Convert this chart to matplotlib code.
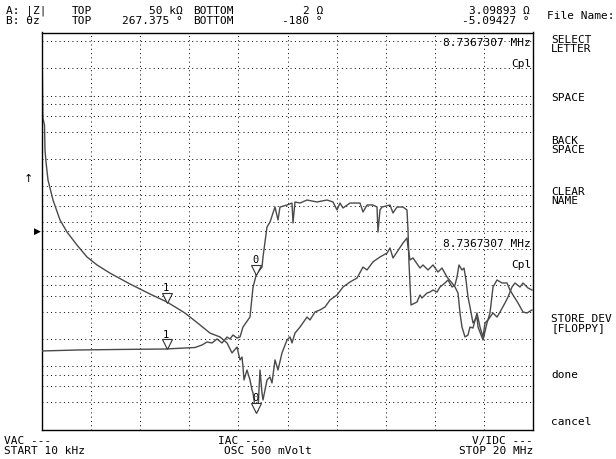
import numpy as np
import matplotlib
matplotlib.use("Agg")
from matplotlib import pyplot as plt
from matplotlib import transforms
from matplotlib.ticker import NullLocator

# sweep and scale settings
start_mhz, stop_mhz = 0.01, 20.0
z_bottom, z_top = 2.0, 50e3
ph_bottom, ph_top = -180.0, 267.375

marker_1_mhz = 5.1
marker_0_mhz = 8.7367307
marker_0_z = 3.09893
marker_0_ph = -5.09427

# trace A: |Z| in ohm
z_freq = [0.025, 0.045, 0.112, 0.132, 0.173, 0.254, 0.458, 0.743, 1.028, 1.435,
          1.842, 2.249, 2.778, 3.593, 4.407, 5.099, 5.832, 6.443, 6.850, 7.257,
          7.542, 7.746, 7.949, 8.071, 8.153, 8.193, 8.234, 8.356, 8.478, 8.560,
          8.600, 8.682, 8.737, 8.804, 8.885, 8.967, 9.008, 9.170, 9.293, 9.374,
          9.496, 9.618, 9.781, 9.985, 10.107, 10.188, 10.310, 10.514, 10.799, 10.921,
          11.125, 11.328, 11.532, 11.735, 12.020, 12.265, 12.550, 12.835, 13.079, 13.242,
          13.486, 13.771, 14.056, 14.178, 14.300, 14.463, 14.707, 14.870, 14.911, 14.992,
          15.114, 15.399, 15.521, 15.725, 15.929, 16.132, 16.295, 16.499, 16.702, 16.824,
          16.947, 17.028, 17.109, 17.231, 17.354, 17.435, 17.557, 17.720, 17.842, 17.964,
          18.046, 18.168, 18.372, 18.534, 18.657, 18.860, 18.982, 19.145, 19.267, 19.471,
          19.593, 19.797, 19.960]
z_ohm = [17800, 5650, 4720, 2500, 1840, 1160, 697, 419, 308, 221,
         163, 133, 108, 81.8, 63.4, 51.7, 39.0, 28.8, 23.4, 21.2,
         18.2, 14.1, 16.4, 11.8, 12.7, 9.85, 7.07, 9.12, 7.07, 5.48,
         5.07, 3.55, 3.10, 3.29, 9.12, 5.07, 4.25, 7.07, 7.63, 6.55,
         11.8, 9.12, 14.1, 19.6, 21.2, 18.2, 23.4, 27.3, 35.2, 32.7,
         40.1, 42.2, 45.5, 54.4, 61.8, 75.8, 86.1, 95.3, 126, 117,
         144, 163, 180, 205, 159, 185, 233, 264, 210, 151,
         159, 123, 133, 117, 133, 111, 123, 97.7, 83.9, 75.8,
         65.0, 39.1, 27.3, 21.2, 22.3, 27.3, 26.6, 39.1, 27.3, 21.2,
         30.3, 32.7, 39.1, 35.2, 40.1, 50.4, 58.7, 75.8, 83.9, 75.8,
         83.9, 73.9, 70.2]

# trace B: phase in degrees
ph_freq = [0.01, 1.476, 3.186, 5.018, 6.239, 6.524, 6.728, 6.931, 7.135, 7.338,
           7.542, 7.664, 7.786, 7.949, 8.071, 8.193, 8.478, 8.600, 8.737, 8.967,
           9.008, 9.089, 9.170, 9.293, 9.415, 9.496, 9.618, 9.700, 9.985, 10.188,
           10.229, 10.310, 10.514, 10.799, 11.206, 11.613, 11.857, 12.020, 12.142, 12.265,
           12.550, 12.957, 13.079, 13.242, 13.486, 13.649, 13.689, 13.771, 13.852, 14.178,
           14.300, 14.463, 14.707, 14.870, 14.911, 14.951, 15.033, 15.277, 15.399, 15.480,
           15.684, 15.806, 15.929, 16.092, 16.214, 16.417, 16.540, 16.702, 16.824, 16.906,
           16.987, 17.109, 17.190, 17.272, 17.354, 17.435, 17.557, 17.720, 17.761, 17.964,
           18.127, 18.249, 18.372, 18.534, 18.738, 18.941, 19.063, 19.185, 19.389, 19.593,
           19.756, 19.960]
ph_deg = [-91.5, -90.4, -89.8, -89.3, -87.6, -84.8, -81.4, -82.5, -78.0, -82.5,
          -75.8, -78.0, -73.5, -76.9, -75.8, -64.5, -53.2, -20.0, -5.1, 3.1,
          14.4, 31.3, 48.2, 53.8, 64.0, 70.7, 56.1, 70.7, 73.0, 75.2,
          52.7, 76.4, 75.2, 78.6, 76.4, 78.6, 76.4, 67.4, 75.2, 69.6,
          75.2, 75.2, 65.1, 73.0, 73.0, 70.7, 42.6, 67.4, 70.7, 73.0,
          64.0, 70.7, 70.7, 67.4, 44.8, 7.6, -39.7, -36.3, -28.4, -31.8,
          -26.2, -25.1, -22.8, -25.1, -19.4, -14.9, -11.5, -19.4, -17.2, -8.1,
          5.4, -0.3, 2.0, -11.5, -30.7, -42.0, -60.0, -53.2, -64.5, -79.1,
          -60.0, -48.7, -19.4, -11.5, -14.9, -14.9, -22.8, -28.4, -37.4, -47.6,
          -48.7, -45.3]

W, H = 616, 459
TRACE = "#4a4a4a"
MONO = "DejaVu Sans Mono"
FS = 8.0


def px(x, y):
    return x / W, 1 - y / H


def put(x, y, s, ha="left", **kw):
    fig.text(*px(x, y), s, ha=ha, va="baseline", family=MONO, fontsize=FS,
             color="black", **kw)


fig = plt.figure(figsize=(W / 100, H / 100), dpi=100)
ax = fig.add_axes([42 / W, (H - 429.5) / H, 491 / W, 397 / H])
ax.set_yscale("log")
ax.set_xlim(start_mhz, stop_mhz)
ax.set_ylim(z_bottom, z_top)

# log grid: 2,4,6,8 per decade plus screen centre line
zgrid = [m * 10 ** d for d in range(0, 5) for m in (2, 4, 6, 8, 10)]
zgrid = [v for v in zgrid if z_bottom < v < z_top] + [10 ** 2.5]
ax.set_yticks(zgrid)
ax.yaxis.set_minor_locator(NullLocator())
ax.set_xticks(np.linspace(start_mhz, stop_mhz, 11)[1:-1])
ax.grid(True, color="black", linewidth=0.7, linestyle=(0, (1, 3.4)))
ax.tick_params(length=0, labelleft=False, labelbottom=False)
ax.set_axisbelow(True)
for sp in ax.spines.values():
    sp.set_linewidth(1.0)

ax2 = ax.twinx()
ax2.set_ylim(ph_bottom, ph_top)
ax2.set_yticks([])
ax2.tick_params(length=0, labelright=False)
for sp in ax2.spines.values():
    sp.set_visible(False)

ax.plot(z_freq, z_ohm, color=TRACE, lw=1.0)
ax2.plot(ph_freq, ph_deg, color=TRACE, lw=1.0)

# markers: open triangles with tip on the trace and a label above
m1_z = np.interp(marker_1_mhz, z_freq, z_ohm)
m1_ph = np.interp(marker_1_mhz, ph_freq, ph_deg)
for a, f, v, lab in [(ax, marker_1_mhz, m1_z, "1"), (ax2, marker_1_mhz, m1_ph, "1"),
                     (ax, marker_0_mhz, marker_0_z, "0"), (ax2, marker_0_mhz, marker_0_ph, "0")]:
    tr = transforms.offset_copy(a.transData, fig=fig, y=4.5, units="dots")
    a.plot([f], [v], marker="v", ms=6.5, mfc="white", mec="#333333", mew=0.8,
           transform=tr, zorder=5)
    a.annotate(lab, xy=(f, v), xytext=(-1, 14), textcoords="offset pixels",
               ha="center", va="center", family=MONO, fontsize=7.5, zorder=6)

# header
put(6, 14, "A: |Z|")
put(72, 14, "TOP")
put(183, 14, "50 kΩ", ha="right")
put(193, 14, "BOTTOM")
put(323, 14, f"{z_bottom:g} Ω", ha="right")
put(6, 23.5, "B: θz")
put(72, 23.5, "TOP")
put(183, 23.5, f"{ph_top:g} °", ha="right")
put(193, 23.5, "BOTTOM")
put(323, 23.5, f"{ph_bottom:g} °", ha="right")
put(530, 14, f"{marker_0_z:.5f} Ω", ha="right")
put(530, 23.5, f"{marker_0_ph:.5f} °", ha="right")
put(547, 19, "File Name:")

# marker readouts inside the grid
put(531, 46, f"{marker_0_mhz:.7f} MHz", ha="right")
put(531, 67, "Cpl", ha="right")
put(531, 247, f"{marker_0_mhz:.7f} MHz", ha="right")
put(531, 268, "Cpl", ha="right")

# softkey menu
for y, s in [(43, "SELECT"), (52, "LETTER"), (101, "SPACE"), (144, "BACK"),
             (153, "SPACE"), (195, "CLEAR"), (204, "NAME"), (322, "STORE DEV"),
             (331, "[FLOPPY]"), (378, "done"), (425, "cancel")]:
    put(551, y, s)

# footer
put(4, 444, "VAC ---")
put(4, 454, "START 10 kHz")
put(218, 444, "IAC ---")
put(224, 454, "OSC 500 mVolt")
put(533, 444, "V/IDC ---", ha="right")
put(533, 454, "STOP 20 MHz", ha="right")

# reference indicators left of the grid
fig.text(*px(28, 179), "↑", ha="center", va="center", fontsize=8, family="DejaVu Sans")
fig.text(*px(37, 231), "▶", ha="center", va="center", fontsize=6.5, family="DejaVu Sans")

fig.savefig("out.png", dpi=100)
